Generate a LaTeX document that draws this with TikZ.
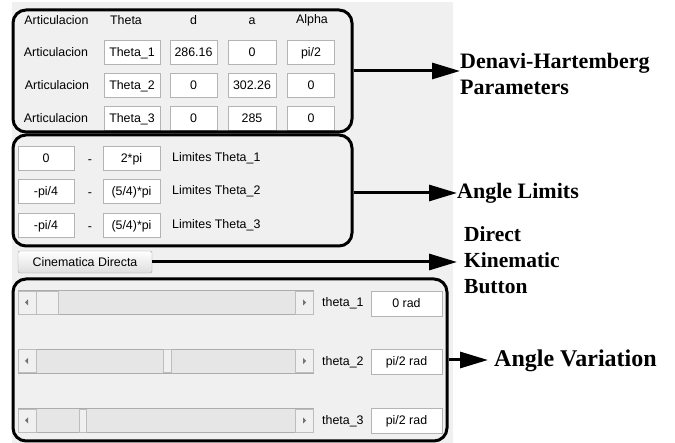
\documentclass[tikz,border=0pt]{standalone}
\usepackage{fontspec}
\setmainfont{Liberation Serif}
\newfontfamily\guifont{Liberation Sans}
\usetikzlibrary{arrows.meta}
\definecolor{panel}{HTML}{F0F0F0}
\definecolor{boxborder}{HTML}{B4B4B4}
\definecolor{track}{HTML}{E6E6E6}
\definecolor{trackborder}{HTML}{ADADAD}
\begin{document}
\begin{tikzpicture}[x=1pt,y=-1pt,
  gui/.style={font=\guifont\fontsize{12.4}{14}\selectfont, inner sep=0pt, text height=8.8pt, text depth=0pt},
  tbox/.style={gui, draw=boxborder, fill=white, line width=0.8pt, minimum height=24pt},
  group/.style={draw=black, line width=3pt, rounded corners=13pt, inner sep=0pt},
  lbl/.style={font=\bfseries\fontsize{22}{25.5}\selectfont, align=left, inner sep=0pt, anchor=west},
  conn/.style={line width=3pt, -{Triangle[length=28pt,width=16pt]}},
  btn/.style={gui, draw=gray!75, rounded corners=2pt, top color=white, bottom color=black!13, minimum width=134pt, minimum height=22pt},
  slidertrack/.style={draw=trackborder, fill=track, line width=0.6pt, minimum width=295pt, minimum height=24pt, inner sep=0pt},
  sbutton/.style={draw=trackborder!80, fill=panel, line width=0.6pt, inner sep=0pt, minimum height=23pt},
]
\useasboundingbox (0,0) rectangle (675,443);
\fill[white] (0,0) rectangle (675,443);
\fill[panel] (12,2) rectangle (453,443);

% ---------- Denavi-Hartemberg table ----------
\node[gui] (hA) at (56.5,20) {Articulacion};
\node[gui] (hT) at (126,20) {Theta};
\node[gui] (hD) at (193.5,20) {d};
\node[gui] (ha) at (252,20) {a};
\node[gui] (hAl) at (312,19) {Alpha};

\node[gui] (r1) at (56,52) {Articulacion};
\node[gui] (r2) at (57,85) {Articulacion};
\node[gui] (r3) at (56,118) {Articulacion};

\node[tbox, minimum width=56pt] (t1) at (132,52) {Theta\_1};
\node[tbox, minimum width=47pt] (d1) at (193.5,52) {286.16};
\node[tbox, minimum width=48pt] (a1) at (252,52) {0};
\node[tbox, minimum width=47pt] (al1) at (311,52) {pi/2};

\node[tbox, minimum width=56pt] (t2) at (132,85) {Theta\_2};
\node[tbox, minimum width=47pt] (d2) at (193.5,85) {0};
\node[tbox, minimum width=48pt] (a2) at (252,85) {302.26};
\node[tbox, minimum width=47pt] (al2) at (311,85) {0};

\node[tbox, minimum width=56pt] (t3) at (132,118) {Theta\_3};
\node[tbox, minimum width=47pt] (d3) at (193.5,118) {0};
\node[tbox, minimum width=48pt] (a3) at (252,118) {285};
\node[tbox, minimum width=47pt] (al3) at (311,118) {0};

\node[group, minimum width=339pt, minimum height=122pt] (dh) at (182.5,71) {};

% ---------- Angle limits ----------
\node[tbox, minimum width=56pt] (l1a) at (46,158) {0};
\node[gui] (l1m) at (90,159) {-};
\node[tbox, minimum width=57pt] (l1b) at (131.5,158) {2*pi};
\node[gui, anchor=west] (l1t) at (172,157) {Limites Theta\_1};

\node[tbox, minimum width=56pt] (l2a) at (46,191) {-pi/4};
\node[gui] (l2m) at (90,192) {-};
\node[tbox, minimum width=57pt] (l2b) at (131.5,191) {(5/4)*pi};
\node[gui, anchor=west] (l2t) at (172,190) {Limites Theta\_2};

\node[tbox, minimum width=56pt] (l3a) at (46,225) {-pi/4};
\node[gui] (l3m) at (90,226) {-};
\node[tbox, minimum width=57pt] (l3b) at (131.5,225) {(5/4)*pi};
\node[gui, anchor=west] (l3t) at (172,224) {Limites Theta\_3};

\node[group, minimum width=339pt, minimum height=111pt] (al) at (182.5,190.5) {};

% ---------- Button ----------
\node[btn] (btn) at (85,262) {Cinematica Directa};

% ---------- Sliders ----------
\foreach \n/\yy/\ta/\tb in {1/302.5/36/58, 2/361/163/171, 3/420.5/79/86} {
  \node[slidertrack] (s\n) at (165.5,\yy) {};
  \node[sbutton, minimum width=18pt, anchor=west] (sl\n) at (s\n.west) {};
  \node[sbutton, minimum width=18pt, anchor=east] (sr\n) at (s\n.east) {};
  \draw[trackborder!80, fill=panel, line width=0.6pt] (\ta,\yy-11.5) rectangle (\tb,\yy+11.5);
  \fill[black!55] ([xshift=-2pt]sl\n.center) -- ++(3,-3) -- ++(0,6) -- cycle;
  \fill[black!55] ([xshift=2pt]sr\n.center) -- ++(-3,-3) -- ++(0,6) -- cycle;
}
\node[gui, anchor=west] (th1) at (322,302) {theta\_1};
\node[gui, anchor=west] (th2) at (322,361) {theta\_2};
\node[gui, anchor=west] (th3) at (322,420) {theta\_3};
\node[tbox, minimum width=71pt, minimum height=25pt] (v1) at (406.5,303.5) {0 rad};
\node[tbox, minimum width=71pt, minimum height=25pt] (v2) at (406.5,361.5) {pi/2 rad};
\node[tbox, minimum width=71pt, minimum height=25pt] (v3) at (406.5,420.5) {pi/2 rad};

\node[group, minimum width=434pt, minimum height=162pt] (av) at (230,360) {};

% ---------- Labels ----------
\node[lbl] (lblDH) at (460,74) {Denavi-Hartemberg\\Parameters};
\node[lbl] (lblAL) at (457,193) {Angle Limits};
\node[lbl, font=\bfseries\fontsize{21.5}{26}\selectfont] (lblDK) at (464,260) {Direct\\Kinematic\\Button};
\node[lbl, font=\bfseries\fontsize{24}{28}\selectfont] (lblAV) at (494,361) {Angle Variation};

% ---------- Connectors ----------
\draw[conn] (dh.east) -- (dh.east -| lblDH.west);
\draw[conn] (lblAL.west -| al.east) -- (lblAL.west);
\draw[conn, shorten >=7pt] (btn.east) -- (btn.east -| lblDK.west);
\draw[conn, shorten >=6pt] (av.east) -- (av.east -| lblAV.west);
\end{tikzpicture}
\end{document}
